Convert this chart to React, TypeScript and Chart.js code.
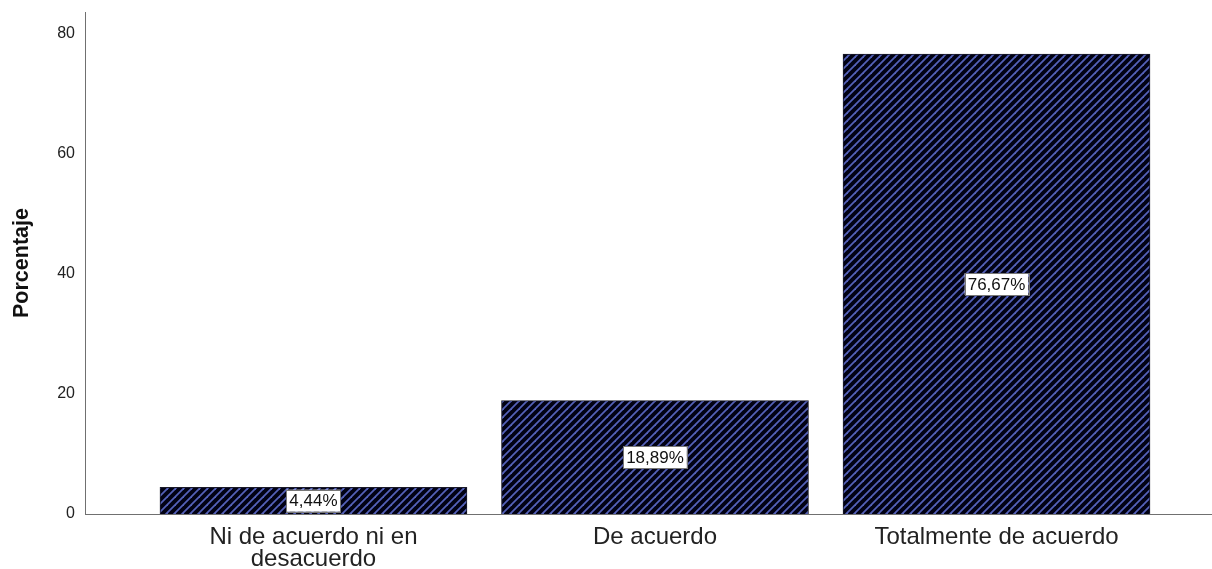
import React, { useEffect, useRef } from "react";
import { Chart, registerables } from "chart.js";

Chart.register(...registerables);

const categories: string[][] = [["Ni de acuerdo ni en", "desacuerdo"], ["De acuerdo"], ["Totalmente de acuerdo"]];
const values: number[] = [4.44, 18.89, 76.67];
const valueLabels: string[] = ["4,44%", "18,89%", "76,67%"];
const yTicks: number[] = [0, 20, 40, 60, 80];

function makePattern(): CanvasPattern | string {
  const c = document.createElement("canvas");
  const s = 8;
  c.width = s;
  c.height = s;
  const g = c.getContext("2d");
  if (!g) return "#101030";
  g.fillStyle = "#020214";
  g.fillRect(0, 0, s, s);
  g.strokeStyle = "#5461b8";
  g.lineWidth = 1.8;
  const lines = [
    [-s, s, s, -s],
    [0, s, s, 0],
    [0, 2 * s, 2 * s, 0],
  ];
  for (const [x1, y1, x2, y2] of lines) {
    g.beginPath();
    g.moveTo(x1, y1);
    g.lineTo(x2, y2);
    g.stroke();
  }
  const p = g.createPattern(c, "repeat");
  return p || "#101030";
}

const labelPlugin = {
  id: "valueBoxes",
  afterDatasetsDraw(chart: any) {
    const ctx = chart.ctx;
    const meta = chart.getDatasetMeta(0);
    ctx.save();
    ctx.font = "17px 'Liberation Sans', Arial, sans-serif";
    ctx.textAlign = "center";
    ctx.textBaseline = "middle";
    meta.data.forEach((bar: any, i: number) => {
      const { x, y, base } = bar.getProps(["x", "y", "base"], true);
      const mid = (y + base) / 2;
      const text = valueLabels[i];
      const w = ctx.measureText(text).width + 6;
      const h = 22;
      ctx.fillStyle = "#ffffff";
      ctx.fillRect(x - w / 2, mid - h / 2, w, h);
      ctx.strokeStyle = "#777777";
      ctx.lineWidth = 1;
      ctx.strokeRect(Math.round(x - w / 2) + 0.5, Math.round(mid - h / 2) + 0.5, Math.round(w), h);
      ctx.fillStyle = "#111111";
      ctx.fillText(text, x, mid + 1);
    });
    ctx.restore();
  },
};

export default function App() {
  const ref = useRef<HTMLCanvasElement>(null);
  useEffect(() => {
    document.body.style.margin = "0";
    if (!ref.current) return;
    const pattern = makePattern();
    const chart = new Chart(ref.current, {
      type: "bar",
      data: {
        datasets: [
          {
            data: values.map((v, i) => ({ x: i, y: v })),
            backgroundColor: pattern as any,
            borderColor: "#1a1a2a",
            borderWidth: 1,
            barThickness: 307,
          },
        ],
      },
      plugins: [labelPlugin],
      options: {
        animation: false,
        responsive: false,
        layout: { padding: { top: 12, left: 0, right: 0, bottom: 0 } },
        plugins: { legend: { display: false }, tooltip: { enabled: false } },
        scales: {
          x: {
            type: "linear",
            offset: false,
            min: -0.669,
            max: 2.631,
            grid: { display: false, drawTicks: false, tickLength: 0 },
            border: { display: true, color: "#707070", width: 1 },
            afterBuildTicks: (scale: any) => {
              scale.ticks = categories.map((_, i) => ({ value: i }));
            },
            afterFit: (scale: any) => {
              scale.height = 55;
              scale.paddingLeft = 0;
              scale.paddingRight = 0;
            },
            ticks: {
              autoSkip: false,
              maxRotation: 0,
              minRotation: 0,
              padding: 13,
              color: "#222222",
              font: { family: "'Liberation Sans', Arial, sans-serif", size: 24, lineHeight: 0.9 },
              callback: (v: any) => categories[v as number] ?? "",
            },
          },
          y: {
            min: 0,
            max: 83.67,
            grid: { display: false, drawTicks: false, tickLength: 0 },
            border: { display: true, color: "#707070", width: 1 },
            afterBuildTicks: (scale: any) => {
              scale.ticks = yTicks.map((v) => ({ value: v }));
            },
            afterFit: (scale: any) => {
              scale.width = 85;
              scale.paddingTop = 0;
              scale.paddingBottom = 0;
            },
            ticks: {
              padding: 10,
              color: "#222222",
              font: { family: "'Liberation Sans', Arial, sans-serif", size: 16 },
            },
            title: {
              display: true,
              text: "Porcentaje",
              color: "#111111",
              padding: { top: 9, bottom: 0 },
              font: { family: "'Liberation Sans', Arial, sans-serif", size: 21.5, weight: "bold" },
            },
          },
        },
      },
    });
    return () => chart.destroy();
  }, []);
  return (
    <div style={{ width: 1212, height: 569 }}>
      <canvas ref={ref} width={1212} height={569} />
    </div>
  );
}
